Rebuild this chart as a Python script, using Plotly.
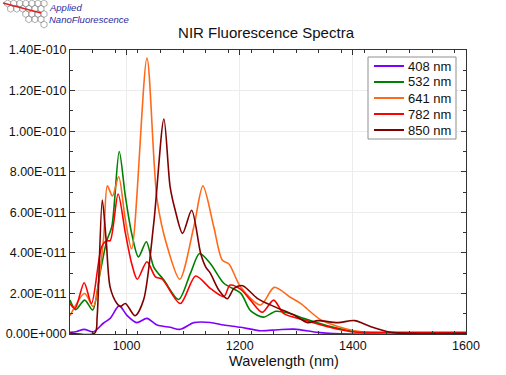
import plotly.graph_objects as go
import math

# ---------------- data ----------------
wl_408 = [900, 912, 925, 941, 959, 971, 987, 1000, 1018, 1036, 1054, 1077, 1095, 1119, 1148, 1172, 1202, 1237, 1267, 1296, 1338, 1366, 1400, 1500, 1600]
v_408 = [0.08, 0.12, 0.23, 0.10, 0.53, 0.77, 1.40, 0.94, 0.56, 0.77, 0.44, 0.33, 0.23, 0.56, 0.57, 0.44, 0.33, 0.16, 0.21, 0.24, 0.08, 0.02, 0.0, 0.0, 0.0]

wl_532 = [900, 910, 926, 940, 953, 965, 974, 987, 998, 1009, 1021, 1035, 1048, 1066, 1092, 1113, 1129, 1148, 1172, 1202, 1219, 1242, 1264, 1290, 1313, 1355, 1397, 1430, 1500, 1600]
v_532 = [1.67, 1.2, 1.67, 1.18, 3.0, 4.6, 5.3, 9.0, 6.76, 4.96, 3.8, 4.55, 3.3, 2.66, 1.7, 3.0, 3.97, 3.48, 2.5, 2.0, 1.15, 0.83, 1.12, 1.0, 0.77, 0.4, 0.15, 0.05, 0.02, 0.0]

wl_641 = [900, 926, 941, 959, 966, 975, 986, 998, 1009, 1036, 1054, 1072, 1094, 1119, 1135, 1154, 1169, 1181, 1202, 1237, 1261, 1290, 1308, 1344, 1402, 1455, 1520, 1600]
v_641 = [0.9, 2.0, 1.35, 4.6, 7.3, 6.8, 7.75, 5.6, 4.2, 13.6, 6.6, 4.3, 2.7, 5.3, 7.3, 5.3, 3.65, 3.45, 2.3, 1.43, 2.3, 1.8, 1.5, 0.69, 0.16, 0.05, 0.02, 0.0]

wl_782 = [900, 909, 925, 938, 956, 965, 971, 985, 998, 1009, 1019, 1036, 1051, 1063, 1095, 1122, 1148, 1172, 1183, 1202, 1219, 1240, 1260, 1278, 1314, 1355, 1397, 1450, 1600]
v_782 = [1.5, 1.26, 2.53, 1.5, 4.3, 4.6, 4.6, 6.9, 4.96, 3.48, 2.7, 3.56, 2.82, 2.7, 1.5, 2.86, 2.25, 1.84, 2.41, 2.2, 1.67, 1.07, 1.67, 1.0, 0.69, 0.36, 0.11, 0.08, 0.08]

wl_850 = [900, 944, 948, 957, 964, 971, 983, 989, 998, 1015, 1030, 1048, 1066, 1077, 1086, 1099, 1115, 1131, 1140, 1148, 1163, 1178, 1190, 1205, 1231, 1261, 1296, 1320, 1338, 1373, 1403, 1432, 1468, 1500, 1600]
v_850 = [0.05, 0.05, 0.85, 6.6, 4.6, 2.3, 1.5, 1.35, 1.5, 0.9, 1.67, 5.45, 10.6, 7.25, 6.1, 4.96, 6.1, 3.97, 3.3, 3.0, 2.17, 1.74, 2.25, 2.38, 1.76, 1.35, 0.94, 0.56, 0.66, 0.56, 0.66, 0.36, 0.08, 0.03, 0.03]

names = ["408 nm", "532 nm", "641 nm", "782 nm", "850 nm"]
wavelengths = [wl_408, wl_532, wl_641, wl_782, wl_850]
values = [v_408, v_532, v_641, v_782, v_850]
colors = ["#8000FF", "#008000", "#FF6A1A", "#FF0000", "#800000"]
scale = 1e-11

y_ticks = [0, 2e-11, 4e-11, 6e-11, 8e-11, 1e-10, 1.2e-10, 1.4e-10]
x_ticks = [1000, 1200, 1400, 1600]

W, H = 506, 375
L, R, T, B = 70, 40, 50, 41
PW, PH = W - L - R, H - T - B


def px_to_paper(px, py):
    return (px - L) / PW, (H - B - py) / PH


def sci(v):
    if v == 0:
        return "0.00E+000"
    e = int(math.floor(math.log10(abs(v)) + 1e-9))
    m = v / 10 ** e
    sign = "+" if e >= 0 else "-"
    return f"{m:.2f}E{sign}{abs(e):03d}"


fig = go.Figure()
for name, x, y, c in zip(names, wavelengths, values, colors):
    fig.add_trace(go.Scatter(
        x=x, y=[v * scale for v in y], name=name, mode="lines", showlegend=False,
        line=dict(color=c, width=1.6, shape="spline", smoothing=0.8),
    ))

fig.update_layout(
    width=W, height=H,
    margin=dict(l=L, r=R, t=T, b=B, autoexpand=False),
    paper_bgcolor="white", plot_bgcolor="white",
    font=dict(family="Liberation Sans, Arial, sans-serif", color="#111"),
    title=dict(text="NIR Fluorescence Spectra", xref="paper", x=0.495, xanchor="center",
               yref="container", y=1 - 33 / H, yanchor="middle",
               font=dict(size=15, color="#111")),
    showlegend=False,
)

fig.update_xaxes(
    range=[900, 1600], tickvals=x_ticks, ticktext=[str(t) for t in x_ticks],
    ticks="inside", ticklen=5, tickcolor="#333", showline=True,
    linecolor="#333", linewidth=1, mirror="allticks",
    showgrid=True, gridcolor="#ececec", gridwidth=1, zeroline=False,
    tickfont=dict(size=12.5, color="#111"),
    minor=dict(tick0=900, dtick=40, ticks="inside", ticklen=3, tickcolor="#333", showgrid=False),
    automargin=False,
)
fig.update_yaxes(
    range=[0, 1.4e-10], tickvals=y_ticks, ticktext=[sci(t) for t in y_ticks],
    ticks="inside", ticklen=5, tickcolor="#333", showline=True,
    linecolor="#333", linewidth=1, mirror="allticks",
    showgrid=True, gridcolor="#ececec", gridwidth=1, zeroline=False,
    tickfont=dict(size=12.5, color="#111"),
    minor=dict(tick0=0, dtick=1e-11, ticks="inside", ticklen=3, tickcolor="#333", showgrid=False),
    automargin=False,
)

# x-axis title as annotation (placed like the reference)
ax, ay = px_to_paper(284, 361)
fig.add_annotation(text="Wavelength (nm)", xref="paper", yref="paper", x=ax, y=ay,
                   xanchor="center", yanchor="middle", showarrow=False,
                   font=dict(size=14.5, color="#111"))

shapes = []

# ---------------- manual legend ----------------
bx0, by0 = px_to_paper(368, 57)
bx1, by1 = px_to_paper(456, 139)
shapes.append(dict(type="rect", xref="paper", yref="paper", x0=bx0, y0=by1, x1=bx1, y1=by0,
                   line=dict(color="#909090", width=1), fillcolor="white", layer="above"))
for i, (name, c) in enumerate(zip(names, colors)):
    yc = 66 + i * 16
    lx0, ly = px_to_paper(374, yc)
    lx1, _ = px_to_paper(404, yc)
    shapes.append(dict(type="line", xref="paper", yref="paper", x0=lx0, y0=ly, x1=lx1, y1=ly,
                       line=dict(color=c, width=2), layer="above"))
    tx, ty = px_to_paper(406, yc)
    fig.add_annotation(text=name, xref="paper", yref="paper", x=tx, y=ty,
                       xanchor="left", yanchor="middle", showarrow=False,
                       font=dict(size=13, color="#111"))

# ---------------- logo (honeycomb + text) ----------------
hex_r = 3.5
hw = hex_r * math.sqrt(3)
rows = [7, 6, 4, 3, 1]
for r, n in enumerate(rows):
    cy = 3.5 + r * hex_r * 1.5
    right = 44 - (r % 2) * hw / 2
    for i in range(n):
        cx = right - i * hw
        pts = []
        for k in range(6):
            a = math.radians(60 * k + 30)
            pts.append(px_to_paper(cx + hex_r * math.cos(a), cy + hex_r * math.sin(a)))
        path = "M " + " L ".join(f"{a:.4f},{b:.4f}" for a, b in pts) + " Z"
        shapes.append(dict(type="path", path=path, xref="paper", yref="paper",
                           line=dict(color="#8a8a8a", width=0.7)))
lx0, ly0 = px_to_paper(3, 3)
lx1, ly1 = px_to_paper(41, 13)
shapes.append(dict(type="line", xref="paper", yref="paper", x0=lx0, y0=ly0, x1=lx1, y1=ly1,
                   line=dict(color="#e02020", width=1.3)))
fig.update_layout(shapes=shapes)
for txt, yy in (("Applied", 7), ("NanoFluorescence", 19)):
    tx, ty = px_to_paper(47, yy)
    fig.add_annotation(text=f"<i>{txt}</i>", xref="paper", yref="paper", x=tx, y=ty,
                       xanchor="left", yanchor="middle", showarrow=False,
                       font=dict(size=9.5, color="#2a2aa0"))

fig.write_html("out.html", config={"displayModeBar": False},
               post_script="document.body.style.margin='0px';")
